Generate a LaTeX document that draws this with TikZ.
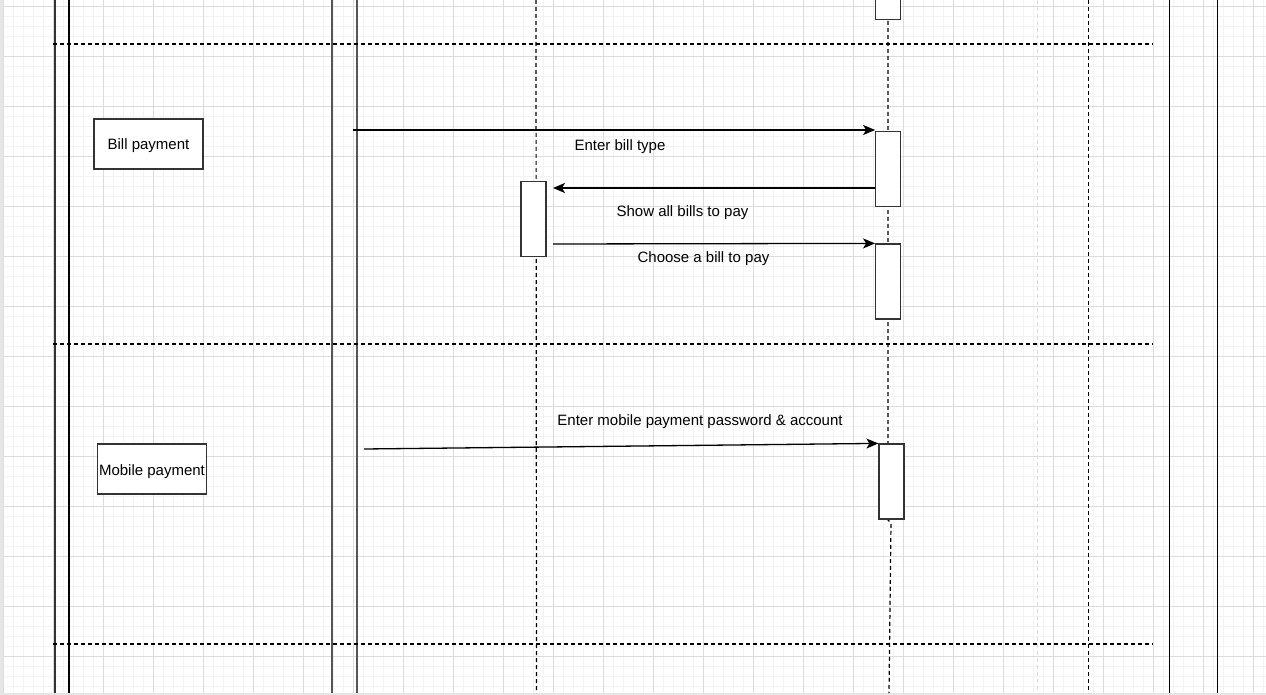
\documentclass[tikz,border=0pt]{standalone}
\usepackage{fontspec}
\setmainfont{Liberation Sans}
\usetikzlibrary{arrows.meta}
\definecolor{minorgrid}{HTML}{F3F3F3}
\definecolor{majorgrid}{HTML}{DCDCDC}
\definecolor{edgegray}{HTML}{E6E6E6}
\definecolor{lanegray}{HTML}{555555}
\definecolor{boxgray}{HTML}{333333}
\tikzset{
  act/.style={draw=boxgray, line width=1.2pt, fill=white, minimum width=25pt, minimum height=75pt, inner sep=0pt},
  label box/.style={draw=boxgray, line width=1.2pt, fill=white, minimum width=109pt, minimum height=50pt, inner sep=0pt, text height=14pt, text depth=2pt, font=\fontsize{15pt}{18pt}\selectfont},
  msgtext/.style={font=\fontsize{15pt}{18pt}\selectfont, inner sep=0pt},
  lifeline/.style={draw=black, line width=1.2pt, dash pattern=on 4pt off 3pt},
  sep/.style={draw=black, line width=1.1pt, dash pattern=on 4pt off 3pt},
  msg/.style={draw=black, line width=1.3pt, -{Stealth[length=12pt,width=10pt,inset=3pt]}},
  lane/.style={line width=1.3pt},
}
\begin{document}
\begin{tikzpicture}[x=1pt,y=-1pt]
\useasboundingbox (0,0) rectangle (1266,695);
\fill[white] (0,0) rectangle (1266,695);
% grid
\foreach \x in {3,13,...,1263} \draw[minorgrid, line width=1pt] (\x,0) -- (\x,693);
\foreach \y in {6.7,16.7,...,693} \draw[minorgrid, line width=1pt] (3,\y) -- (1266,\y);
\foreach \x in {3,53,...,1263} \draw[majorgrid, line width=1pt] (\x,0) -- (\x,693);
\foreach \y in {6.7,56.7,...,693} \draw[majorgrid, line width=1pt] (3,\y) -- (1266,\y);
\fill[edgegray] (0,0) rectangle (2.5,695);
\fill[edgegray] (0,693) rectangle (1266,695);
% vertical lanes
\coordinate (l1t) at (55,0);    \coordinate (l1b) at (55,693);
\coordinate (l2t) at (69,0);    \coordinate (l2b) at (69,693);
\coordinate (l3t) at (332,0);   \coordinate (l3b) at (332,693);
\coordinate (l4t) at (357,0);   \coordinate (l4b) at (357,693);
\coordinate (l5t) at (1169.5,0);\coordinate (l5b) at (1169.5,693);
\coordinate (l6t) at (1217.5,0);\coordinate (l6b) at (1217.5,693);
\draw[lane, draw=boxgray] (l1t) -- (l1b);
\draw[lane, draw=black] (l2t) -- (l2b);
\draw[lane, draw=lanegray] (l3t) -- (l3b);
\draw[lane, draw=lanegray] (l4t) -- (l4b);
\draw[lane, draw=black] (l5t) -- (l5b);
\draw[lane, draw=black] (l6t) -- (l6b);
% lifelines
\coordinate (ll1t) at (536,0);  \coordinate (ll1b) at (536.5,693);
\coordinate (ll2t) at (888,0);  \coordinate (ll2m) at (891,523); \coordinate (ll2b) at (889,693);
\coordinate (ll3t) at (1037.5,0); \coordinate (ll3b) at (1037.5,693);
\coordinate (ll4t) at (1088.3,0); \coordinate (ll4b) at (1088.3,693);
\draw[lifeline] (ll1t) -- (ll1b);
\draw[lifeline] (ll2t) -- (888,520) -- (ll2m) -- (ll2b);
\draw[lifeline, draw=majorgrid] (ll3t) -- (ll3b);
\draw[lifeline] (ll4t) -- (ll4b);
% separators
\coordinate (s1a) at (53,44);  \coordinate (s1b) at (1153,44);
\coordinate (s2a) at (53,344); \coordinate (s2b) at (1153,344);
\coordinate (s3a) at (53,644); \coordinate (s3b) at (1153,644);
\draw[sep] (s1a) -- (s1b);
\draw[sep] (s2a) -- (s2b);
\draw[sep] (s3a) -- (s3b);
% activation boxes
\node[act] (b1) at (888.2,-18) {};
\node[act] (b2) at (888.2,169) {};
\node[act] (b3) at (888.2,281.5) {};
\node[act] (bl) at (533.5,219) {};
\node[act] (mb) at (891.5,481.5) {};
% label boxes
\node[label box] (bill) at (148.5,144) {Bill payment};
\node[label box] (mobile) at (152,469) {Mobile payment};
% messages
\coordinate (m1s) at (353,130);
\coordinate (m2e) at (553,188);
\coordinate (m3s) at (553,244);
\coordinate (m4s) at (364,449);
\draw[msg] (m1s) -- (b2.north west |- m1s);
\draw[msg] (b2.west |- m2e) -- (m2e);
\draw[msg] (m3s) -- (b3.north west);
\draw[msg] (m4s) -- (mb.north west);
% message labels
\node[msgtext] (t1) at (620,147) {Enter bill type};
\node[msgtext] (t2) at (682.5,213) {Show all bills to pay};
\node[msgtext] (t3) at (703.5,259) {Choose a bill to pay};
\node[msgtext] (t4) at (700,422) {Enter mobile payment password \& account};
\end{tikzpicture}
\end{document}
